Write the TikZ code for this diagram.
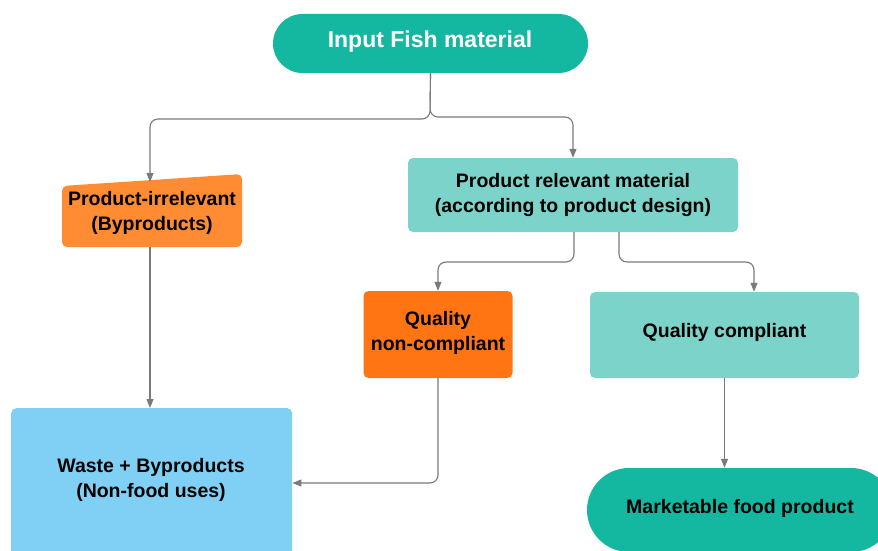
\documentclass[tikz,border=0pt]{standalone}
\usepackage{fontspec}
\setmainfont{Liberation Sans}
\usetikzlibrary{arrows.meta,shapes.misc}
\definecolor{tealdark}{HTML}{14B8A0}
\definecolor{teallight}{HTML}{7CD3C9}
\definecolor{orangeA}{HTML}{FF8B33}
\definecolor{orangeB}{HTML}{FF7514}
\definecolor{skyblue}{HTML}{7FD0F4}
\definecolor{conncol}{HTML}{7A7A7A}
\tikzset{
  lbl/.style={align=center,font=\fontsize{19.5}{24.5}\selectfont\bfseries,text=black},
  boxA/.style={draw=none,rounded corners=5pt},
  pill/.style={rounded rectangle,fill=tealdark,draw=none,inner sep=0pt},
  conn/.style={draw=conncol,line width=1.1pt,rounded corners=8pt,-{Triangle[length=9pt,width=7pt]}},
}
\begin{document}
\begin{tikzpicture}[x=1pt,y=-1pt]
\useasboundingbox (0,0) rectangle (878,551);
\begin{scope}
\clip (0,0) rectangle (878,551);
% Input Fish material
\node[pill,minimum width=315pt,minimum height=59pt] (inputP) at (430.5,43.5) {};
\node[lbl,text=white,font=\fontsize{23}{28}\selectfont\bfseries] (input) at (430,42) {Input Fish material};
% Product-irrelevant
\fill[orangeA,rounded corners=5pt] (62,186) -- (242,174) -- (242,247) -- (62,247) -- cycle;
\node[lbl] (pirr) at (152,213) {Product-irrelevant\\(Byproducts)};
\coordinate (pirrN) at (150,182);
\coordinate (pirrS) at (150,247);
% Product relevant
\node[boxA,fill=teallight,minimum width=330pt,minimum height=74pt] (prel) at (573,195) {};
\node[lbl] (prelT) at (573,195) {Product relevant material\\(according to product design)};
% Quality non-compliant
\node[boxA,fill=orangeB,minimum width=149pt,minimum height=87pt] (qnc) at (438,334.5) {};
\node[lbl] (qncT) at (438,333) {Quality\\non-compliant};
% Quality compliant
\node[boxA,fill=teallight,minimum width=269pt,minimum height=86pt] (qc) at (724.5,335) {};
\node[lbl] (qcT) at (724.5,332) {Quality compliant};
% Waste
\node[boxA,fill=skyblue,minimum width=281pt,minimum height=150pt,anchor=north west] (waste) at (11,408) {};
\node[lbl] (wasteT) at (151,480) {Waste + Byproducts\\(Non-food uses)};
% Marketable
\node[pill,minimum width=306pt,minimum height=84pt] (marketP) at (740,510) {};
\node[lbl] (market) at (740,508) {Marketable food product};
\end{scope}
% connectors
\draw[conn] (inputP.south) -- (430,119) -| (pirrN);
\draw[conn] (inputP.south) -- (430,117) -| (prel.north);
\draw[conn] (pirrS) -- (waste.north -| pirrS);
\draw[conn] (prel.south -| 574,0) -- (574,262) -| (qnc.north);
\draw[conn] (prel.south -| 619,0) -- (619,262) -| (754,0 |- qc.north);
\draw[conn] (qnc.south) |- (waste.east |- 0,483);
\draw[conn] (qc.south) -- (marketP.north -| qc.south);
\end{tikzpicture}
\end{document}
